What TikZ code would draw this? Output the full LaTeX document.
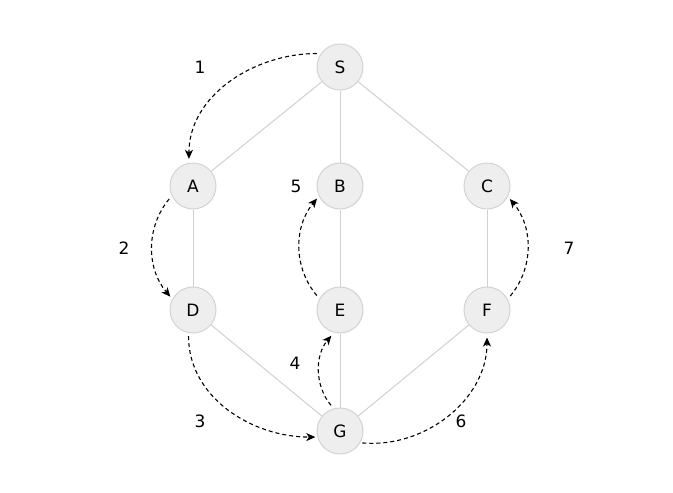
\documentclass[tikz,border=0pt]{standalone}
\usepackage{fontspec}
\setmainfont{DejaVu Sans}
\usetikzlibrary{arrows.meta}
\definecolor{nodefill}{HTML}{EEEEEE}
\definecolor{nodeline}{HTML}{D3D3D3}
\definecolor{edgeline}{HTML}{D0D0D0}
\begin{document}
\begin{tikzpicture}[x=1pt,y=1pt,
  vtx/.style={circle,fill=nodefill,draw=nodeline,line width=1pt,minimum size=46pt,inner sep=0pt,font=\fontsize{17}{20}\selectfont},
  edge/.style={draw=edgeline,line width=1pt},
  walk/.style={draw=black,line width=1.1pt,dash pattern=on 4pt off 3pt,-{Stealth[length=9pt,width=8pt,inset=2.5pt]}},
  num/.style={font=\fontsize{17}{20}\selectfont}]
\useasboundingbox (0,0) rectangle (673,-493);
\node[vtx] (S) at (340,-67) {S};
\node[vtx] (A) at (193,-186) {A};
\node[vtx] (B) at (340,-186) {B};
\node[vtx] (C) at (487,-186) {C};
\node[vtx] (D) at (193,-310) {D};
\node[vtx] (E) at (340,-310) {E};
\node[vtx] (F) at (487,-310) {F};
\node[vtx] (G) at (340,-431) {G};
\draw[edge] (S) -- (A);
\draw[edge] (S) -- (B);
\draw[edge] (S) -- (C);
\draw[edge] (A) -- (D);
\draw[edge] (B) -- (E);
\draw[edge] (C) -- (F);
\draw[edge] (D) -- (G);
\draw[edge] (E) -- (G);
\draw[edge] (F) -- (G);
\draw[walk,shorten <=4pt,shorten >=4pt] (S.145) to[out=180,in=90] (A.100);
\draw[walk,shorten <=4pt,shorten >=3pt] (A.205) to[bend right=40] (D.152);
\draw[walk,shorten <=3pt,shorten >=2pt] (D.259) to[out=270,in=180] (G.195);
\draw[walk,shorten <=4pt,shorten >=4pt] (G.106) to[bend left=40] (E.255);
\draw[walk,shorten <=4pt,shorten >=3pt] (E.151) to[bend left=40] (B.206);
\draw[walk,shorten <=2pt,shorten >=4pt] (G.330) to[out=-5,in=270] (F.270);
\draw[walk,shorten <=4pt,shorten >=3pt] (F.28) to[bend right=40] (C.333);
\node[num] (n1) at (200,-67) {1};
\node[num] (n2) at (124,-248) {2};
\node[num] (n3) at (200,-421) {3};
\node[num] (n4) at (295,-363) {4};
\node[num] (n5) at (296,-186) {5};
\node[num] (n6) at (461,-421) {6};
\node[num] (n7) at (569,-248) {7};
\end{tikzpicture}
\end{document}
